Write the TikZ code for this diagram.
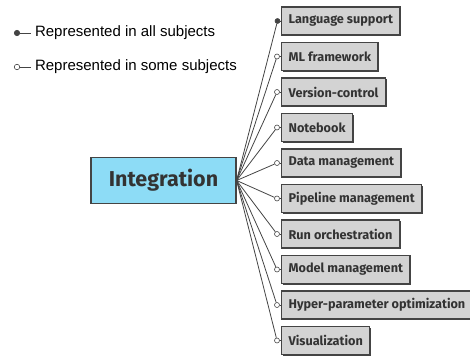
\documentclass[tikz,border=0pt]{standalone}
\usepackage{fontspec}
\setmainfont{Liberation Sans}
\newfontfamily\boxfont{Fira Sans}
\usetikzlibrary{shadows}
\definecolor{boxgray}{HTML}{D3D3D3}
\definecolor{inkgray}{HTML}{333333}
\definecolor{edgegray}{HTML}{444444}
\definecolor{skyfill}{HTML}{8DDCF6}
\tikzset{
  topic/.style={draw=edgegray, line width=1.2pt, fill=boxgray, text=inkgray,
    font=\boxfont\bfseries\fontsize{12.7}{15}\selectfont, minimum height=28pt,
    inner xsep=7pt, anchor=west,
    drop shadow={shadow xshift=1.2pt, shadow yshift=-1.2pt, fill=edgegray, opacity=1}},
  hub/.style={draw=edgegray, line width=1.2pt, fill=skyfill, text=inkgray,
    font=\boxfont\bfseries\fontsize{21.5}{25}\selectfont, minimum width=145pt, minimum height=46pt},
  some/.style={circle, draw=edgegray, fill=white, line width=0.6pt, inner sep=0pt, minimum size=5pt},
  all/.style={some, fill=edgegray},
  link/.style={draw=edgegray, line width=0.8pt}
}
\begin{document}
\begin{tikzpicture}[x=1pt, y=-1pt]
    \useasboundingbox (0,0) rectangle (470,356);
    \node[all, minimum size=5.5pt] (la) at (17,33) {};
    \draw[link, line width=1pt] (la) -- (31,33);
    \node[anchor=west, font=\fontsize{15}{18}\selectfont, text=black] (ta) at (31.5,33) {Represented in all subjects};
    \node[some, minimum size=5.5pt] (ls) at (17,67) {};
    \draw[link, line width=1pt] (ls) -- (31,67);
    \node[anchor=west, font=\fontsize{15}{18}\selectfont, text=black] (ts) at (31.5,67) {Represented in some subjects};
    \node[hub] (int) at (163.5,180.5) {Integration};
    \foreach \i/\t in {1/Language support, 2/ML framework, 3/Version-control, 4/Notebook,
        5/Data management, 6/Pipeline management, 7/Run orchestration,
        8/Model management, 9/Hyper-parameter optimization, 10/Visualization} {
        \node[topic] (b\i) at (281, {21+35.5*(\i-1)}) {\t};
        \ifnum\i=1
          \node[all] (c\i) at (277.5, {21+35.5*(\i-1)}) {};
        \else
          \node[some] (c\i) at (277, {21+35.5*(\i-1)}) {};
        \fi
        \draw[link] (int.east) -- (c\i);
        \draw[link] (c\i) -- (b\i.west);
    }
\end{tikzpicture}
\end{document}
